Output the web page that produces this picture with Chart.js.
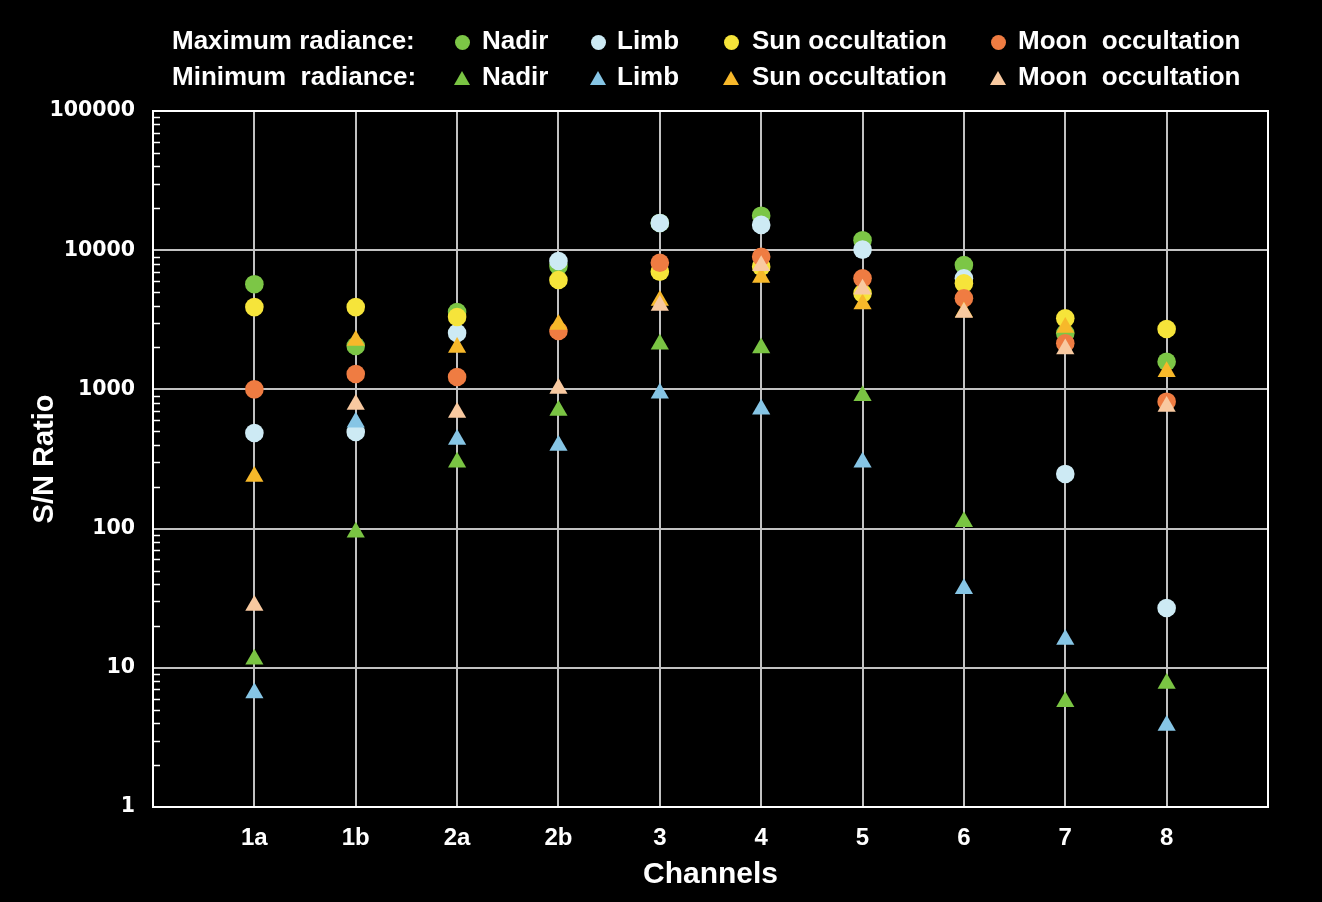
<!DOCTYPE html>
<html><head><meta charset="utf-8">
<script src="https://cdn.jsdelivr.net/npm/chart.js@4.4.0/dist/chart.umd.min.js"></script>
<style>
html,body{margin:0;padding:0;background:#000;}
#wrap{position:relative;width:1322px;height:902px;overflow:hidden;background:#000;}
canvas{position:absolute;left:0;top:0;}
.lg{position:absolute;color:#fff;font-family:"Liberation Sans",Arial,sans-serif;font-weight:bold;font-size:26px;line-height:30px;white-space:pre;}
.mk{position:absolute;}
</style></head><body>
<div id="wrap"><canvas id="c" width="1322" height="902"></canvas><div id="legend"></div></div>
<script>
// ---- data ----
const channels = ['1a','1b','2a','2b','3','4','5','6','7','8'];
const yTickValues = [1,10,100,1000,10000,100000];
const yTickLabels = ['1','10','100','1000','10000','100000'];

const maxNadir = [5700, 2050, 3600, 7700, 15700, 17700, 11800, 7830, 2530, 1581];
const maxLimb  = [486, 494, 2540, 8360, 15700, 15200, 10100, 6280, 247, 26.9];
const maxSun   = [3900, 3900, 3310, 6110, 7010, 7620, 4900, 5780, 3240, 2716];
const maxMoon  = [1000, 1290, 1228, 2630, 8130, 8980, 6280, 4520, 2144, 816];

const minNadir = [11.5, 94, 300, 705, 2110, 1980, 900, 112, 5.7, 7.7];
const minLimb  = [6.6, 580, 437, 395, 940, 720, 300, 37, 16, 3.85];
const minSun   = [237, 2250, 2000, 2930, 4360, 6370, 4100, 3600, 2780, 1340];
const minMoon  = [28, 780, 683, 1015, 4010, 7730, 5250, 3570, 1950, 755];

const seriesNames = ['Nadir','Limb','Sun occultation','Moon  occultation'];
const rowLabels = ['Maximum radiance:','Minimum  radiance:'];

// ---- styles ----
const circleColors = ['#7cc646','#cdeaf4','#f6e43a','#ef7c42'];
const triColors    = ['#7ac443','#86c5e5','#f7b82a','#f8c9a0'];

const toPts = arr => channels.map((c,i)=>({x:i+1, y:arr[i]}));
const maxSets = [maxNadir, maxLimb, maxSun, maxMoon];
const minSets = [minNadir, minLimb, minSun, minMoon];

const datasets = [];
maxSets.forEach((arr,k)=>datasets.push({
  label:'Max '+seriesNames[k], data:toPts(arr), pointStyle:'circle', pointRadius:9.3,
  backgroundColor:circleColors[k], borderColor:circleColors[k], borderWidth:0, showLine:false, order:8-k
}));
minSets.forEach((arr,k)=>datasets.push({
  label:'Min '+seriesNames[k], data:toPts(arr), pointStyle:'triangle', pointRadius:10.5,
  backgroundColor:triColors[k], borderColor:triColors[k], borderWidth:0, showLine:false, order:4-k
}));

const framePlugin = {
  id:'frame',
  beforeDatasetsDraw(chart){
    const {ctx, chartArea:a, scales:{y}} = chart;
    ctx.save();
    ctx.strokeStyle='#ffffff'; ctx.lineWidth=2;
    ctx.strokeRect(a.left, a.top, a.right-a.left, a.bottom-a.top);
    ctx.lineWidth=1.5;
    ctx.beginPath();
    for (let k=0;k<5;k++) for (let d=2;d<=9;d++){
      const py=Math.round(y.getPixelForValue(d*Math.pow(10,k)))+0.5;
      ctx.moveTo(a.left, py); ctx.lineTo(a.left+7, py);
    }
    ctx.stroke(); ctx.restore();
  }
};

const gridColor = '#c2c2c2';
new Chart(document.getElementById('c'), {
  type:'scatter',
  data:{datasets},
  plugins:[framePlugin],
  options:{
    responsive:false, animation:false,
    layout:{padding:{top:111, right:54, left:0, bottom:0}},
    plugins:{legend:{display:false}, tooltip:{enabled:false}},
    scales:{
      x:{type:'linear', min:0, max:11,
        afterBuildTicks: s => { s.ticks = channels.map((c,i)=>({value:i+1})); },
        afterFit: s => { s.height = 95; },
        ticks:{color:'#fff', font:{family:'Liberation Sans', weight:'bold', size:24}, padding:17, autoSkip:false, maxRotation:0,
          callback: v => channels[v-1]},
        grid:{color:gridColor, lineWidth:2, drawTicks:false},
        border:{display:false},
        title:{display:true, text:'Channels', color:'#fff', font:{family:'Liberation Sans', weight:'bold', size:30}, padding:{top:0,bottom:9}}
      },
      y:{type:'logarithmic', min:1, max:100000,
        afterBuildTicks: s => { s.ticks = yTickValues.map(v=>({value:v})); },
        afterFit: s => { s.width = 153; },
        ticks:{color:'#fff', font:{family:'DejaVu Sans', weight:'bold', size:20.5}, padding:18, autoSkip:false,
          callback: v => { const i = yTickValues.indexOf(Number(v)); return i>=0 ? yTickLabels[i] : ''; }},
        grid:{color:gridColor, lineWidth:2, drawTicks:false},
        border:{display:false},
        title:{display:true, text:'S/N Ratio', color:'#fff', font:{family:'Liberation Sans', weight:'bold', size:29}, padding:{top:28,bottom:0}}
      }
    }
  }
});

// ---- HTML legend ----
const lg = document.getElementById('legend');
const rowCenters = [40, 76];
const markerX = [462, 598, 731, 998];
const textX = [482, 617, 752, 1018];
function addText(txt, x, cy){
  const d=document.createElement('div'); d.className='lg'; d.textContent=txt;
  d.style.left=x+'px'; d.style.top=(cy-15)+'px'; lg.appendChild(d);
}
rowLabels.forEach((lbl,r)=>{
  addText(lbl, 172, rowCenters[r]);
  seriesNames.forEach((n,k)=>{
    const m=document.createElement('div'); m.className='mk';
    if(r===0){
      m.style.width='15px'; m.style.height='15px'; m.style.borderRadius='50%';
      m.style.background=circleColors[k];
      m.style.left=(markerX[k]-7.5)+'px'; m.style.top=(rowCenters[r]+2-7.5)+'px';
    } else {
      m.style.width='16px'; m.style.height='14px';
      m.style.clipPath='polygon(50% 0, 100% 100%, 0 100%)';
      m.style.background=triColors[k];
      m.style.left=(markerX[k]-8)+'px'; m.style.top=(rowCenters[r]+2-7)+'px';
    }
    lg.appendChild(m);
    addText(n, textX[k], rowCenters[r]);
  });
});
</script>
</body></html>
